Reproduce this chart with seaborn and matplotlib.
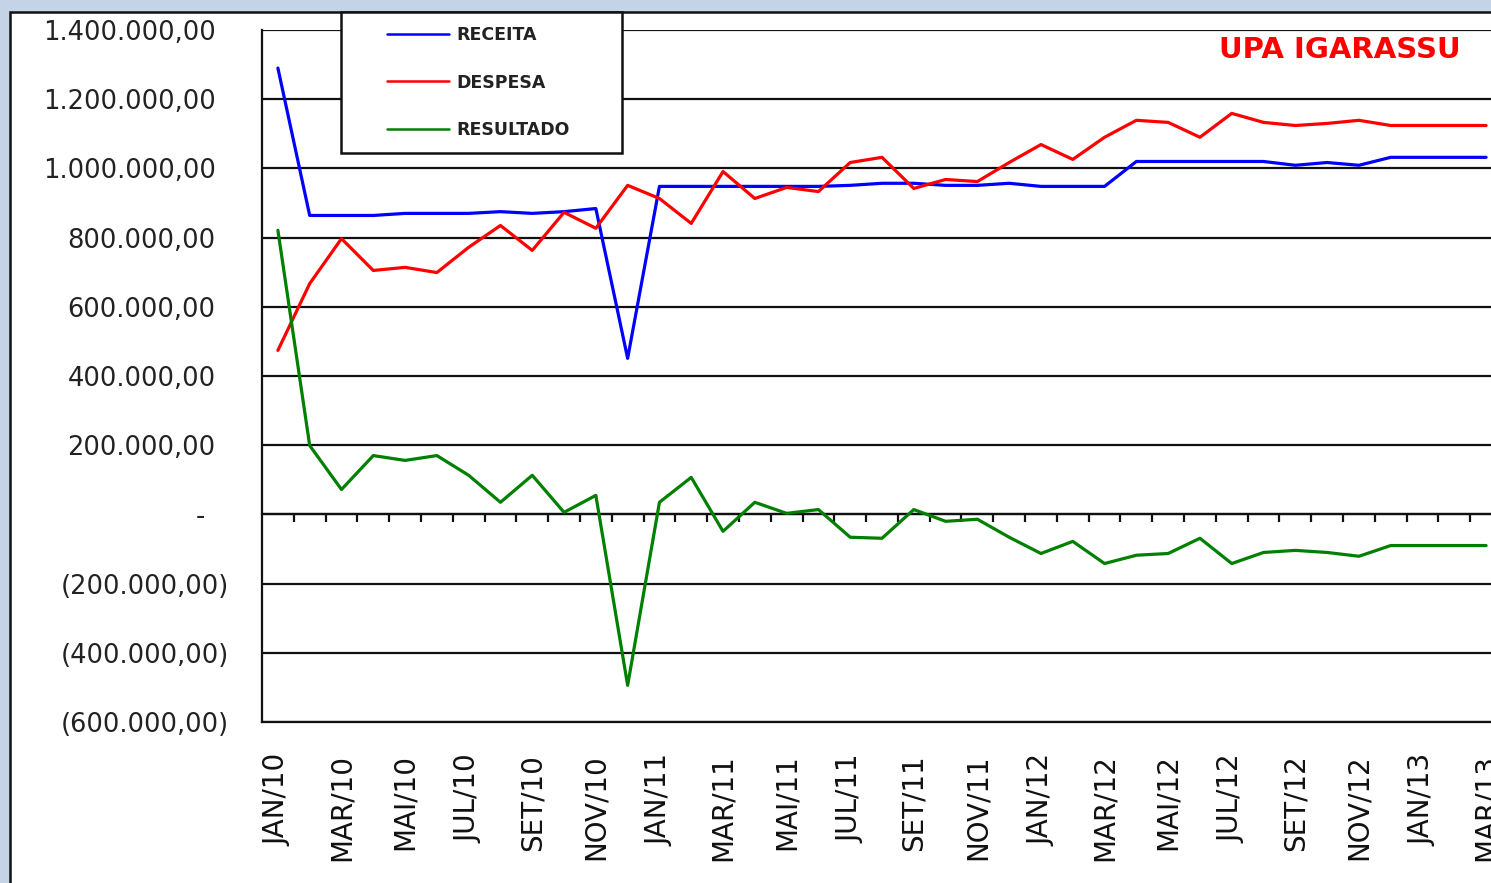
import matplotlib
matplotlib.use("Agg")
import matplotlib.pyplot as plt
import matplotlib.patches as mpatches
import matplotlib.transforms as mtransforms
import numpy as np
import pandas as pd
import seaborn as sns
from matplotlib.ticker import FuncFormatter, FixedLocator

# monthly values, JAN/10 .. MAR/13
months = ["JAN/10", "FEV/10", "MAR/10", "ABR/10", "MAI/10", "JUN/10", "JUL/10", "AGO/10",
          "SET/10", "OUT/10", "NOV/10", "DEZ/10",
          "JAN/11", "FEV/11", "MAR/11", "ABR/11", "MAI/11", "JUN/11", "JUL/11", "AGO/11",
          "SET/11", "OUT/11", "NOV/11", "DEZ/11",
          "JAN/12", "FEV/12", "MAR/12", "ABR/12", "MAI/12", "JUN/12", "JUL/12", "AGO/12",
          "SET/12", "OUT/12", "NOV/12", "DEZ/12",
          "JAN/13", "FEV/13", "MAR/13"]

receita = [1290000, 864000, 864000, 864000, 870000, 870000, 870000, 875000,
           870000, 875000, 884000, 451000,
           948000, 948000, 948000, 948000, 948000, 948000, 951000, 957000,
           957000, 951000, 951000, 957000,
           948000, 948000, 948000, 1020000, 1020000, 1020000, 1020000, 1020000,
           1009000, 1017000, 1009000, 1032000,
           1032000, 1032000, 1032000]

despesa = [474000, 667000, 797000, 705000, 714000, 699000, 772000, 835000,
           763000, 873000, 827000, 951000,
           913000, 841000, 991000, 913000, 945000, 933000, 1017000, 1032000,
           942000, 968000, 962000, 1017000,
           1069000, 1026000, 1090000, 1139000, 1133000, 1090000, 1159000, 1133000,
           1124000, 1130000, 1139000, 1124000,
           1124000, 1124000, 1124000]

resultado = [821000, 199000, 72000, 170000, 156000, 170000, 113000, 35000,
             113000, 6000, 55000, -494000,
             35000, 107000, -49000, 35000, 3000, 14000, -66000, -69000,
             14000, -20000, -14000, -66000,
             -113000, -78000, -142000, -118000, -113000, -69000, -142000, -110000,
             -104000, -110000, -121000, -90000,
             -90000, -90000, -90000]

series_names = ["RECEITA", "DESPESA", "RESULTADO"]
series_colors = ["#0000ff", "#ff0000", "#008000"]

W, H = 1491, 883


def y_formatter(v, pos):
  if abs(v) < 1:
    return '-'
  s = '{:,.2f}'.format(abs(v)).replace(',', 'X').replace('.', ',').replace('X', '.')
  if v < 0:
    return '(' + s + ')'
  return s


def main():
  n = len(months)
  idx = np.arange(n)
  df = pd.DataFrame({
      'mes': np.concatenate([idx, idx, idx]),
      'valor': receita + despesa + resultado,
      'serie': [series_names[0]] * n + [series_names[1]] * n + [series_names[2]] * n,
  })

  sns.set_style("white")
  plt.rcParams['font.family'] = ['DejaVu Sans']

  fig = plt.figure(figsize=(W / 100, H / 100), dpi=100)
  fig.patch.set_facecolor('#c5d3e6')
  # white slide panel behind the chart
  panel = mpatches.Rectangle((10 / W, -0.01), 1.0, (H - 12) / H + 0.01,
                             transform=fig.transFigure, facecolor='white',
                             edgecolor='#111111', linewidth=1.8, zorder=-10)
  fig.patches.append(panel)

  ax = fig.add_axes([262 / W, (H - 722) / H, 1240 / W, 692 / H])
  ax.set_facecolor('none')

  sns.lineplot(data=df, x='mes', y='valor', hue='serie', hue_order=series_names,
               palette=series_colors, linewidth=2.3, ax=ax, legend=True, zorder=3)

  ax.set_xlim(-0.5, n - 0.5)
  ax.set_ylim(-600000, 1400000)
  ax.yaxis.set_major_locator(FixedLocator(np.arange(-600000, 1400001, 200000)))
  ax.yaxis.set_major_formatter(FuncFormatter(y_formatter))
  ax.grid(axis='y', color='#111111', linewidth=1.6)
  ax.set_axisbelow(True)

  for side in ['top', 'right']:
    ax.spines[side].set_visible(False)
  ax.spines['left'].set_color('#111111')
  ax.spines['left'].set_linewidth(1.6)
  ax.spines['bottom'].set_color('#111111')
  ax.spines['bottom'].set_linewidth(1.6)

  ax.tick_params(axis='y', direction='out', length=8.6, width=1.6, color='#111111',
                 labelsize=18.5, labelcolor='#222222', pad=15.5)

  ax.set_xticks(idx[::2])
  ax.set_xticklabels(months[::2], rotation=90, fontsize=20, color='#111111')
  ax.tick_params(axis='x', length=0, pad=23)
  ax.set_xlabel('')
  ax.set_ylabel('')

  # positive numbers leave room for the closing parenthesis, like the sheet format
  locs = ax.yaxis.get_majorticklocs()
  for tick, loc in zip(ax.yaxis.get_major_ticks(len(locs)), locs):
    if abs(loc) < 1:
      dx = -24
    elif loc > 0:
      dx = -13
    else:
      dx = 0
    if dx:
      off = mtransforms.ScaledTranslation(dx / 100, 0, fig.dpi_scale_trans)
      tick.label1.set_transform(tick.label1.get_transform() + off)

  # category boundary ticks on the zero line
  zero_axis = ax.secondary_xaxis(0.3)
  zero_axis.set_xticks(np.arange(0.5, n - 0.5, 1.0))
  zero_axis.set_xticklabels([])
  zero_axis.tick_params(direction='out', length=6, width=1.6, color='#111111')
  zero_axis.spines['bottom'].set_color('#111111')
  zero_axis.spines['bottom'].set_linewidth(1.6)

  # legend box
  frame = mpatches.Rectangle((341 / W, (H - 153) / H), 281 / W, 141 / H,
                             transform=fig.transFigure, facecolor='white',
                             edgecolor='#111111', linewidth=1.8, zorder=4)
  fig.patches.append(frame)

  handles, labels = ax.get_legend_handles_labels()
  ax.get_legend().remove()
  for h in handles:
    h.set_linewidth(1.8)
  leg = fig.legend(handles, labels, loc='upper left',
                   bbox_to_anchor=(387 / W, (H - 26) / H),
                   frameon=False,
                   handlelength=3.6, handletextpad=0.4, labelspacing=1.7,
                   borderpad=0, borderaxespad=0,
                   prop={'size': 12.5, 'weight': 'bold', 'family': 'DejaVu Sans'})
  for t in leg.get_texts():
    t.set_color('#222222')
  leg.set_zorder(6)

  fig.text(1340 / W, 1 - 50 / H, 'UPA IGARASSU', color='#ff0000',
           fontsize=21, fontweight='bold', ha='center', va='center')

  plt.savefig('out.png', dpi=100, facecolor=fig.get_facecolor())
  plt.close()


if __name__ == '__main__':
  main()
